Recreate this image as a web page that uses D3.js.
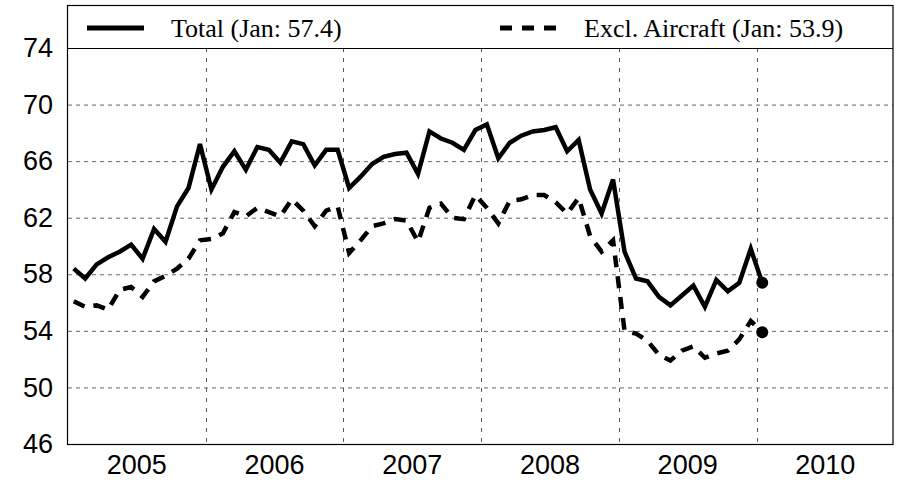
<!DOCTYPE html>
<html>
<head>
<meta charset="utf-8">
<script src="https://cdn.jsdelivr.net/npm/d3@7"></script>
<style>
  html, body { margin: 0; padding: 0; background: #fff; }
  svg { display: block; }
</style>
</head>
<body>
<svg id="chart" width="899" height="480"></svg>
<script>
// ---- Data (monthly, Jan 2005 .. Jan 2010) ----
const startYear = 2005;
const totalValues = [
  58.4, 57.7, 58.7, 59.2, 59.6, 60.1, 59.1, 61.2, 60.3, 62.8, 64.1, 67.2,
  64.0, 65.6, 66.7, 65.4, 67.0, 66.8, 65.9, 67.4, 67.2, 65.7, 66.8, 66.8,
  64.1, 64.9, 65.8, 66.3, 66.5, 66.6, 65.1, 68.1, 67.6, 67.3, 66.8, 68.2,
  68.6, 66.2, 67.3, 67.8, 68.1, 68.2, 68.4, 66.7, 67.5, 64.0, 62.3, 64.7,
  59.6, 57.7, 57.5, 56.4, 55.8, 56.5, 57.2, 55.7, 57.6, 56.8, 57.4, 59.8,
  57.4
];
const exclAircraftValues = [
  56.1, 55.7, 55.8, 55.5, 56.9, 57.1, 56.4, 57.5, 57.9, 58.4, 59.1, 60.4,
  60.5, 60.9, 62.4, 62.1, 62.7, 62.4, 62.1, 63.3, 62.5, 61.4, 62.5, 62.8,
  59.5, 60.4, 61.4, 61.6, 61.9, 61.8, 60.3, 62.7, 63.0, 62.0, 61.9, 63.6,
  62.7, 61.6, 63.2, 63.3, 63.6, 63.6, 63.1, 62.3, 63.4, 60.7, 59.6, 60.4,
  54.0, 53.8, 53.3, 52.3, 51.9, 52.6, 52.9, 52.1, 52.4, 52.6, 53.4, 54.7,
  53.9
];
const yearLabels = ["2005", "2006", "2007", "2008", "2009", "2010"];
const yTicks = [46, 50, 54, 58, 62, 66, 70, 74];
const legendLabels = ["Total (Jan: 57.4)", "Excl. Aircraft (Jan: 53.9)"];

// ---- Layout ----
const left = 68, right = 893, frameTop = 5, plotTop = 48, bottom = 444;

const svg = d3.select("#chart");

const x = d3.scaleLinear().domain([2005, 2011]).range([left, 894.2]);
const y = d3.scaleLinear().domain([46, 74]).range([bottom, plotTop]);

const monthX = i => x(startYear + (i + 0.5) / 12);

// Gridlines
const grid = svg.append("g");
grid.selectAll("line.h")
  .data(yTicks.filter(t => t > 46 && t < 74))
  .join("line")
  .attr("x1", left).attr("x2", right)
  .attr("y1", d => y(d) + 0.5).attr("y2", d => y(d) + 0.5)
  .attr("stroke", "#666").attr("stroke-width", 1)
  .attr("stroke-dasharray", "4,4");
grid.selectAll("line.v")
  .data(d3.range(2006, 2011))
  .join("line")
  .attr("x1", d => Math.round(x(d)) + 0.5).attr("x2", d => Math.round(x(d)) + 0.5)
  .attr("y1", plotTop).attr("y2", bottom)
  .attr("stroke", "#555").attr("stroke-width", 1)
  .attr("stroke-dasharray", "4,6");

// Y axis labels
const yAxis = d3.axisLeft(y).tickValues(yTicks).tickSize(0).tickPadding(15);
const gy = svg.append("g").attr("transform", `translate(${left},0)`).call(yAxis);
gy.select(".domain").remove();
gy.selectAll("text")
  .attr("font-family", "Liberation Sans, Arial, sans-serif")
  .attr("font-size", 27).attr("fill", "#000");

// X axis labels (centred in each year)
const gx = svg.append("g");
gx.selectAll("text")
  .data(yearLabels)
  .join("text")
  .attr("x", d => x(+d + 0.5))
  .attr("y", 474)
  .attr("text-anchor", "middle")
  .attr("font-family", "Liberation Sans, Arial, sans-serif")
  .attr("font-size", 27)
  .text(d => d);

// Lines
const line = d3.line().x((d, i) => monthX(i)).y(d => y(d));
svg.append("path")
  .datum(exclAircraftValues)
  .attr("d", line)
  .attr("fill", "none").attr("stroke", "#000")
  .attr("stroke-width", 4.5)
  .attr("stroke-dasharray", "12,9");
svg.append("path")
  .datum(totalValues)
  .attr("d", line)
  .attr("fill", "none").attr("stroke", "#000")
  .attr("stroke-width", 4.5)
  .attr("stroke-linejoin", "miter");

// End dots
const last = totalValues.length - 1;
svg.append("circle").attr("cx", monthX(last)).attr("cy", y(totalValues[last])).attr("r", 6);
svg.append("circle").attr("cx", monthX(last)).attr("cy", y(exclAircraftValues[last])).attr("r", 6);

// Frame
svg.append("rect")
  .attr("x", left - 0.5).attr("y", frameTop + 0.5)
  .attr("width", right - left + 0.5).attr("height", bottom - frameTop)
  .attr("fill", "none").attr("stroke", "#000").attr("stroke-width", 1.2);
svg.append("line")
  .attr("x1", left).attr("x2", right)
  .attr("y1", plotTop + 0.5).attr("y2", plotTop + 0.5)
  .attr("stroke", "#000").attr("stroke-width", 1.2);

// Legend
const lg = svg.append("g");
lg.append("line").attr("x1", 87).attr("x2", 144).attr("y1", 28).attr("y2", 28)
  .attr("stroke", "#000").attr("stroke-width", 5);
lg.append("text").attr("x", 171).attr("y", 36.5)
  .attr("font-family", "Liberation Serif, Times New Roman, serif")
  .attr("font-size", 26).text(legendLabels[0]);
lg.append("line").attr("x1", 500).attr("x2", 557).attr("y1", 28).attr("y2", 28)
  .attr("stroke", "#000").attr("stroke-width", 5).attr("stroke-dasharray", "12,10");
lg.append("text").attr("x", 584).attr("y", 36.5)
  .attr("font-family", "Liberation Serif, Times New Roman, serif")
  .attr("font-size", 26).text(legendLabels[1]);
</script>
</body>
</html>
